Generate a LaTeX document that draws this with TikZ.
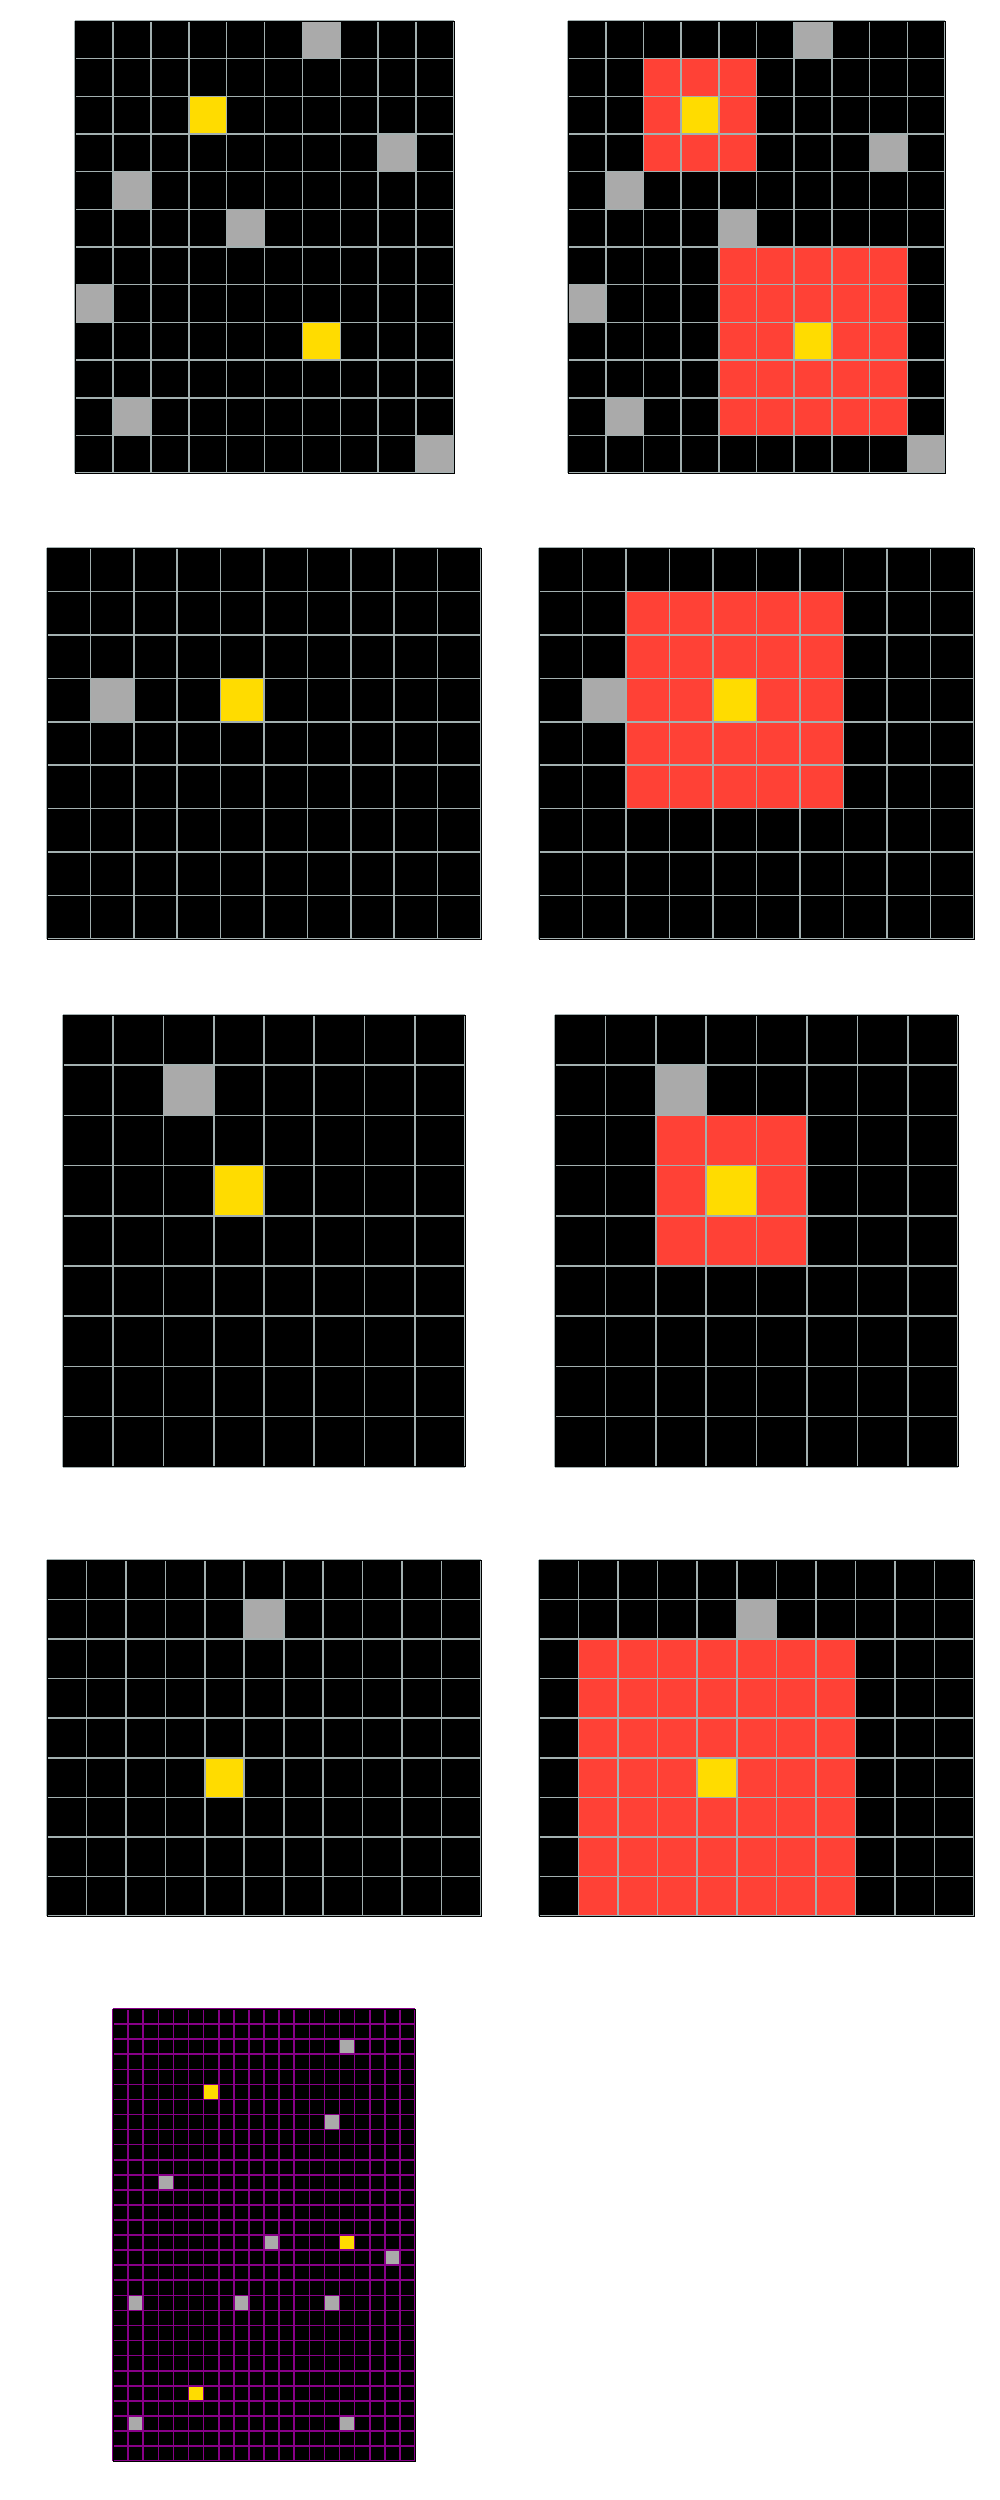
\documentclass[tikz,border=0pt]{standalone}
\usetikzlibrary{positioning}
\definecolor{cBlack}{HTML}{000000}
\definecolor{cGray}{HTML}{AAAAAA}
\definecolor{cYellow}{HTML}{FFDC00}
\definecolor{cRed}{HTML}{FF4136}
\definecolor{cLine}{HTML}{A3B0B0}
\definecolor{cPurple}{HTML}{880088}

% x0, y0, cols, rows, cell width, cell height, line colour, cells c/r/w/h/colour
\newcommand{\arcgrid}[8]{%
  \begin{scope}[shift={(#1,#2)}, x=#5pt, y=-#6pt]
    \fill[cBlack] (0,0) rectangle (#3,#4);
    \foreach \c/\r/\w/\h/\f in {#8} {\fill[\f] (\c,\r) rectangle ++(\w,\h);}
    \foreach \i in {0,...,#3} {\draw[gridline, draw=#7] (\i,0) -- (\i,#4);}
    \foreach \j in {0,...,#4} {\draw[gridline, draw=#7] (0,\j) -- (#3,\j);}
    \draw[frame] (0,0) rectangle (#3,#4);
  \end{scope}}

\begin{document}
\begin{tikzpicture}[
    x=1pt, y=-1pt,
    gridline/.style={line width=1.6pt},
    frame/.style={draw=cBlack, line width=0.8pt}
]
\useasboundingbox (0,0) rectangle (1000,2500);

% pair 1
\arcgrid{75}{21}{10}{12}{37.9}{37.67}{cLine}{6/0/1/1/cGray, 8/3/1/1/cGray, 1/4/1/1/cGray, 4/5/1/1/cGray, 0/7/1/1/cGray, 1/10/1/1/cGray, 9/11/1/1/cGray, 3/2/1/1/cYellow, 6/8/1/1/cYellow}
\arcgrid{568}{21}{10}{12}{37.7}{37.67}{cLine}{2/1/3/3/cRed, 4/6/5/5/cRed, 6/0/1/1/cGray, 8/3/1/1/cGray, 1/4/1/1/cGray, 4/5/1/1/cGray, 0/7/1/1/cGray, 1/10/1/1/cGray, 9/11/1/1/cGray, 3/2/1/1/cYellow, 6/8/1/1/cYellow}

% pair 2
\arcgrid{47}{548}{10}{9}{43.4}{43.44}{cLine}{1/3/1/1/cGray, 4/3/1/1/cYellow}
\arcgrid{539}{548}{10}{9}{43.5}{43.44}{cLine}{2/1/5/5/cRed, 1/3/1/1/cGray, 4/3/1/1/cYellow}

% pair 3
\arcgrid{63}{1015}{8}{9}{50.25}{50.2}{cLine}{2/1/1/1/cGray, 3/3/1/1/cYellow}
\arcgrid{555}{1015}{8}{9}{50.4}{50.2}{cLine}{2/2/3/3/cRed, 2/1/1/1/cGray, 3/3/1/1/cYellow}

% pair 4
\arcgrid{47}{1560}{11}{9}{39.45}{39.55}{cLine}{5/1/1/1/cGray, 4/5/1/1/cYellow}
\arcgrid{539}{1560}{11}{9}{39.55}{39.55}{cLine}{1/2/7/7/cRed, 5/1/1/1/cGray, 4/5/1/1/cYellow}

% test input
\arcgrid{113}{2009}{20}{30}{15.1}{15.07}{cPurple}{15/2/1/1/cGray, 14/7/1/1/cGray, 3/11/1/1/cGray, 10/15/1/1/cGray, 18/16/1/1/cGray, 1/19/1/1/cGray, 8/19/1/1/cGray, 14/19/1/1/cGray, 1/27/1/1/cGray, 15/27/1/1/cGray, 6/5/1/1/cYellow, 15/15/1/1/cYellow, 5/25/1/1/cYellow}

\end{tikzpicture}
\end{document}
